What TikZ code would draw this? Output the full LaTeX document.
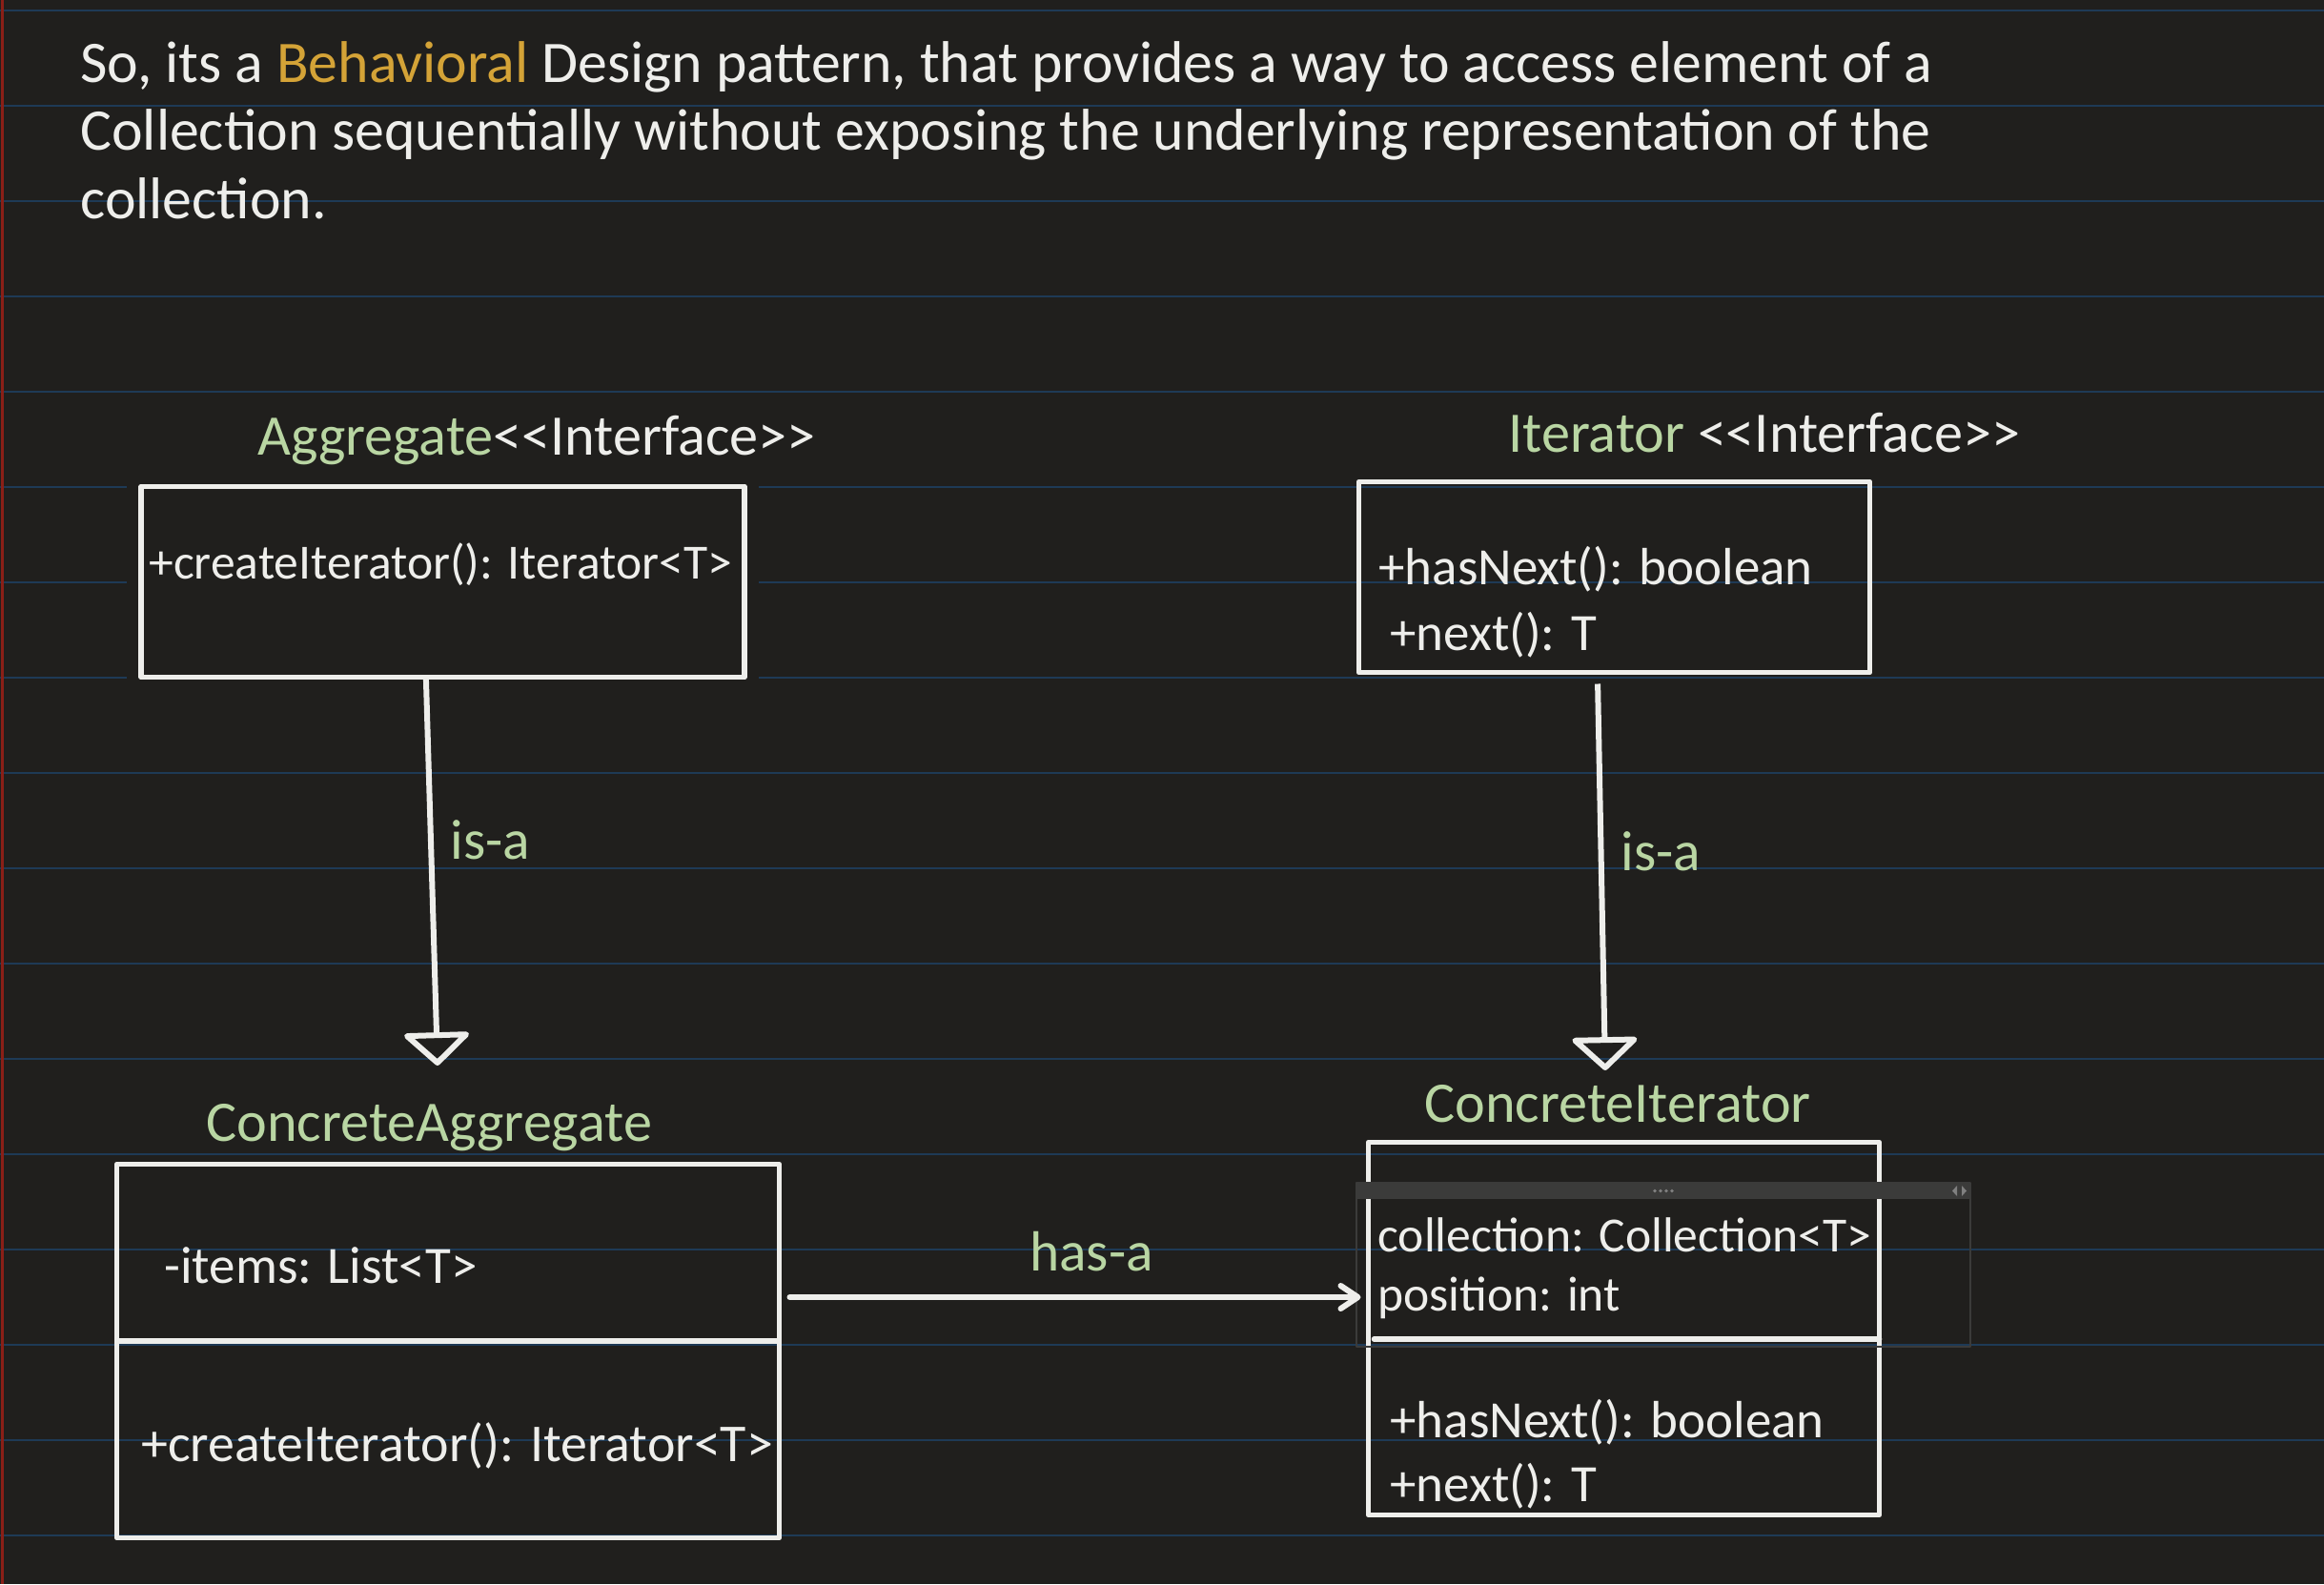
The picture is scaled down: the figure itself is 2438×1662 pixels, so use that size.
\documentclass[tikz,border=0pt]{standalone}
\usepackage{fontspec}
\setmainfont{Carlito}
\usetikzlibrary{arrows.meta}
\definecolor{bgc}{HTML}{201F1D}
\definecolor{ink}{HTML}{EEEEEB}
\definecolor{leaf}{HTML}{B9D6A3}
\definecolor{gold}{HTML}{D4A337}
\definecolor{ruleblue}{HTML}{1E3A56}
\definecolor{redline}{HTML}{8A1F17}
\definecolor{widgetgray}{HTML}{3B3B3A}
\begin{document}
\begin{tikzpicture}[x=0.5pt, y=-0.5pt, line join=round,
  rule line/.style={draw=ruleblue, line width=1pt},
  para/.style={anchor=base west, inner sep=0pt, text=ink, font=\fontsize{30.9pt}{37pt}\selectfont},
  title/.style={anchor=base west, inner sep=0pt, text=leaf, font=\fontsize{30.1pt}{36pt}\selectfont},
  member/.style={anchor=base west, inner sep=0pt, text=ink, font=\fontsize{27.5pt}{33pt}\selectfont},
  small member/.style={member, font=\fontsize{25.8pt}{31pt}\selectfont},
  wide member/.style={member, font=\fontsize{27.95pt}{33pt}\selectfont},
  class box/.style={draw=ink, line width=2.8pt, outer sep=0pt, inner sep=0pt},
  class line/.style={draw=ink, line width=2.8pt},
  opaque/.style={fill=bgc, preaction={draw=bgc, line width=15pt}},
  is a/.style={draw=ink, line width=3pt, -{Triangle[open, length=18pt, width=38pt, round]}},
  has a/.style={draw=ink, line width=3pt, line cap=round, -{Straight Barb[length=9pt, width=12pt, round]}},
  link label/.style={text=leaf, anchor=west, inner sep=9pt, font=\fontsize{29.7pt}{36pt}\selectfont}]
\useasboundingbox (0,0) rectangle (2438,1662);
\fill[bgc] (0,0) rectangle (2438,1662);
\foreach \y in {11,111,...,1611}
  \draw[rule line] (0,\y) -- (2438,\y);
\draw[redline, line width=1.5pt] (2,0) -- (2,1662);

\node[para] (line1) at (84,86) {So, its a \textcolor{gold}{Behavioral} Design pattern, that provides a way to access element of a};
\node[para] (line2) at (84,157.5) {Collection sequentially without exposing the underlying representation of the};
\node[para] (line3) at (84,229) {collection.};

\node[title] (aggName) at (270,477) {Aggregate\textcolor{ink}{<{}<Interface>{}>}};
\node[class box, opaque, minimum width=316.5pt, minimum height=100pt] (agg) at (464.5,610.5) {};
\node[small member] (aggOp) at (156,607) {+createIterator(): Iterator<T>};

\node[title] (iterName) at (1582,474) {Iterator \textcolor{ink}{<{}<Interface>{}>}};
\node[class box, minimum width=268pt, minimum height=100pt] (iter) at (1693.5,605.5) {};
\node[member] (iterOp1) at (1446,613) {+hasNext(): boolean};
\node[member] (iterOp2) at (1458,682) {+next(): T};

\node[title] (caggName) at (216,1197) {ConcreteAggregate};
\node[class box, minimum width=347.5pt, minimum height=196pt] (cagg) at (470,1417.5) {};
\draw[class line] (cagg.west |- 0,1407) -- (cagg.east |- 0,1407);
\node[member] (caggAttr) at (172,1346) {-items: List<T>};
\node[wide member] (caggOp) at (148,1533) {+createIterator(): Iterator<T>};

\node[title] (citerName) at (1494,1177) {ConcreteIterator};
\node[class box, minimum width=268pt, minimum height=195.5pt] (citer) at (1703.5,1394) {};
\draw[class line, line cap=round] ([xshift=3pt]citer.west |- 0,1405) -- (citer.east |- 0,1405);
\draw[widgetgray, line width=1pt] (1423,1241) rectangle (2067,1413);
\fill[widgetgray] (1423,1241) rectangle (2067,1258);
\foreach \x in {1736,1742,1748,1754}
  \fill[gray] (\x,1249.5) circle (0.9pt);
\fill[gray] (2053,1244) -- (2048,1249.5) -- (2053,1255) -- cycle;
\fill[gray] (2058,1244) -- (2063,1249.5) -- (2058,1255) -- cycle;
\node[small member] (citerAttr1) at (1445,1313) {collection: Collection<T>};
\node[small member] (citerAttr2) at (1445,1375) {position: int};
\node[member] (citerOp1) at (1458,1508) {+hasNext(): boolean};
\node[member] (citerOp2) at (1458,1575) {+next(): T};

\coordinate (aggTip) at (459,1118);
\coordinate (iterTip) at (1684,1123);
\coordinate (hasRow) at (0,1361);
\draw [is a] (agg.-100) -- node[link label, pos=0.42]{is-a} (aggTip);
\draw [is a, shorten <=6pt] (iter.-100) -- node[link label, pos=0.45]{is-a} (iterTip);
\draw [has a, shorten <=5.5pt, shorten >=4pt] (cagg.east |- hasRow) -- node[link label, above, pos=0.53, inner sep=12pt]{has-a} (citer.west |- hasRow);
\end{tikzpicture}
\end{document}
